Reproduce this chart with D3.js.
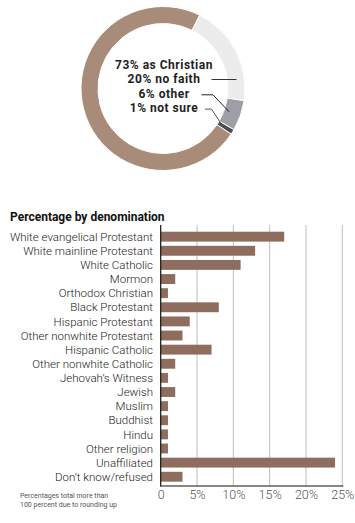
<!DOCTYPE html>
<html><head><meta charset="utf-8">
<script src="https://cdn.jsdelivr.net/npm/d3@7"></script>
<style>
html,body{margin:0;padding:0;background:#fff;}
svg{display:block;}
</style></head>
<body>
<script>
// ---- data ----
const donutLabels = ["as Christian", "no faith", "other", "not sure"];
const donutValues = [73, 20, 6, 1];
const donutColors = ["#a88c79", "#ececec", "#9e9ea7", "#4d4d4f"];

const categories = ["White evangelical Protestant","White mainline Protestant","White Catholic","Mormon","Orthodox Christian","Black Protestant","Hispanic Protestant","Other nonwhite Protestant","Hispanic Catholic","Other nonwhite Catholic","Jehovah\u2019s Witness","Jewish","Muslim","Buddhist","Hindu","Other religion","Unaffiliated","Don\u2019t know/refused"];
const values = [17, 13, 11, 2, 1, 8, 4, 3, 7, 2, 1, 2, 1, 1, 1, 1, 24, 3];
const tickValues = [0, 5, 10, 15, 20, 25];
const tickLabels = ["0", "5%", "10%", "15%", "20%", "25%"];
const chartTitle = "Percentage by denomination";
const footnote = ["Percentages total more than", "100 percent due to rounding up"];

const W = 355, H = 523;
const svg = d3.select("body").append("svg").attr("width", W).attr("height", H);
const font = "Roboto, 'Liberation Sans', sans-serif";

// ---- donut ----
const cx = 163, cy = 88.5, rOut = 82, rIn = 65;
const startA = 2.160;
const pie = d3.pie().sort(null).startAngle(startA).endAngle(startA + 2 * Math.PI);
const arcs = pie(donutValues);
const arc = d3.arc().innerRadius(rIn).outerRadius(rOut);
const g = svg.append("g").attr("transform", `translate(${cx},${cy})`);
g.selectAll("path").data(arcs).join("path")
  .attr("d", arc).attr("fill", (d, i) => donutColors[i])
  .attr("stroke", "#fff").attr("stroke-width", 1);

const lineH = 14.3, firstBase = 69;
donutLabels.forEach((l, i) => {
  svg.append("text").attr("x", 164).attr("y", firstBase + i * lineH)
    .attr("text-anchor", "middle").attr("font-family", font).attr("font-weight", 700)
    .attr("font-size", 12).attr("letter-spacing", 0.5).attr("fill", "#1e1e1e")
    .text(donutValues[i] + "% " + l);
});
// leader lines computed from arc geometry
function pt(a, r) { return [cx + r * Math.sin(a), cy - r * Math.cos(a)]; }
{
  const yy = firstBase + lineH - 3.8;
  const rr = (rIn + rOut) / 2 + 0.5;
  const x2 = cx + Math.sqrt(rr * rr - (yy - cy) * (yy - cy));
  svg.append("line").attr("x1", 211.5).attr("x2", x2).attr("y1", yy).attr("y2", yy)
    .attr("stroke", "#333").attr("stroke-width", 1);
}
[[2, 201.5, 213], [3, 205, 211.5]].forEach(([i, xa, xb]) => {
  const d = arcs[i];
  const m = (d.startAngle + d.endAngle) / 2;
  const p = pt(m, 70);
  const yy = firstBase + i * lineH - 2.8;
  svg.append("path").attr("d", `M${xa},${yy}H${xb}L${p[0]},${p[1]}`)
    .attr("fill", "none").attr("stroke", i === 3 ? "#555" : "#222").attr("stroke-width", 1);
});

// ---- bar chart ----
const x0 = 160.7, x1 = 342.3;
const x = d3.scaleLinear().domain([0, 25]).range([x0, x1]);
const y = d3.scaleBand().domain(categories).range([229.6, 483.8]).paddingInner(0.3).paddingOuter(0.15);
const axisY = 486;

svg.append("text").attr("x", 10).attr("y", 221).attr("font-family", font)
  .attr("font-weight", 700).attr("font-size", 12).attr("fill", "#111").text(chartTitle);

svg.append("g").selectAll("line").data(tickValues.slice(1)).join("line")
  .attr("x1", d => x(d)).attr("x2", d => x(d)).attr("y1", 225).attr("y2", axisY)
  .attr("stroke", "#bdbdbd").attr("stroke-width", 1);

svg.append("g").selectAll("rect").data(values).join("rect")
  .attr("x", x(0)).attr("y", (d, i) => y(categories[i]))
  .attr("width", d => x(d) - x(0)).attr("height", y.bandwidth())
  .attr("fill", "#8e6d5e");

svg.append("g").selectAll("text").data(categories).join("text")
  .attr("x", 153).attr("y", d => y(d) + y.bandwidth() / 2).attr("dy", "0.36em")
  .attr("text-anchor", "end").attr("font-family", font).attr("font-size", 11.5)
  .attr("font-weight", 300).attr("fill", "#1a1a1a").text(d => d);

svg.append("line").attr("x1", x0).attr("x2", x0).attr("y1", 225).attr("y2", axisY + 0.5)
  .attr("stroke", "#111").attr("stroke-width", 1.2);
svg.append("line").attr("x1", x0).attr("x2", x1 + 1).attr("y1", axisY).attr("y2", axisY)
  .attr("stroke", "#111").attr("stroke-width", 1.2);

const xAxis = d3.axisBottom(x).tickValues(tickValues).tickFormat((d, i) => tickLabels[i]).tickSize(0).tickPadding(0);
const ax = svg.append("g").attr("transform", `translate(0,${axisY})`).call(xAxis);
ax.select(".domain").remove();
ax.selectAll("text").attr("font-family", font).attr("font-size", 12.5).attr("fill", "#555")
  .attr("font-weight", 300).attr("dy", null).attr("y", 13.3);

footnote.forEach((t, i) => {
  svg.append("text").attr("x", 20).attr("y", 498 + i * 9).attr("font-family", font)
    .attr("font-size", 7).attr("fill", "#555").text(t);
});
</script>
</body></html>
